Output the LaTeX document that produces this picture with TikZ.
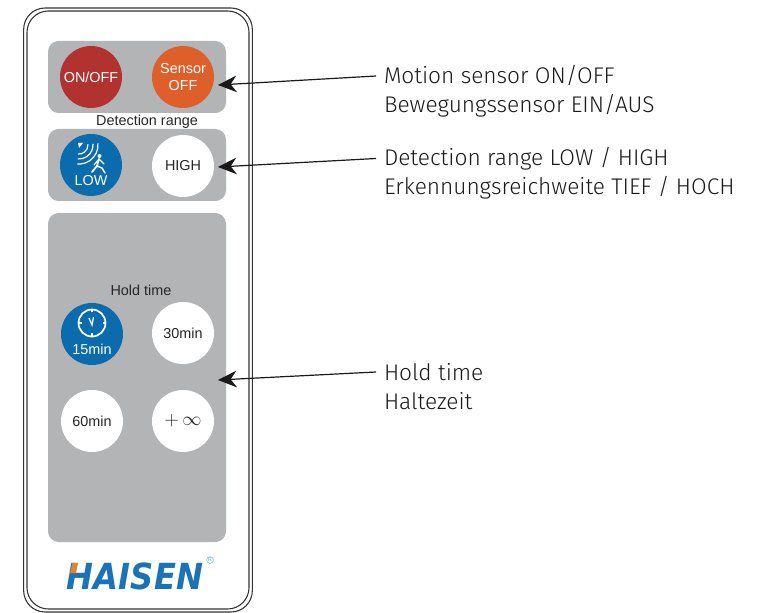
\documentclass[tikz,border=0pt]{standalone}
\usepackage{fontspec}
\setmainfont{Liberation Sans}
\newfontfamily\calloutfont{Fira Sans Light}
\newfontfamily\logofont{DejaVu Sans}
\usetikzlibrary{arrows.meta}
\definecolor{panelgray}{HTML}{B3B4B6}
\definecolor{btnredc}{HTML}{B2322F}
\definecolor{btnorangec}{HTML}{DF5F2B}
\definecolor{btnbluec}{HTML}{0A6CAD}
\definecolor{logoblue}{HTML}{1B72B5}
\definecolor{logoorange}{HTML}{E8822A}
\tikzset{
    case/.style = {draw=black!80, line width=0.8pt, rounded corners=16pt},
    panel/.style = {fill=panelgray, rounded corners=8pt},
    btn/.style = {circle, minimum size=46.5pt, inner sep=0pt, align=center, font=\fontsize{10.8}{12.3}\selectfont},
    btnw/.style = {btn, fill=white, text=black!85},
    btnr/.style = {btn, fill=btnredc, text=white},
    btno/.style = {btn, fill=btnorangec, text=white},
    btnb/.style = {btn, fill=btnbluec, text=white},
    caption/.style = {font=\fontsize{10.8}{13}\selectfont, text=black!85, inner sep=0pt},
    callout/.style = {anchor=west, inner sep=0pt, outer sep=6pt, font=\calloutfont\fontsize{17}{19}\selectfont, text=black!90},
    pointer/.style = {-{Stealth[length=14pt,width=12.5pt]}, line width=0.9pt, black!90},
    iconline/.style = {white, line width=0.9pt}
}
\begin{document}
\begin{tikzpicture}[x=0.75pt,y=-0.75pt]
\useasboundingbox (0,0) rectangle (758,613);
% case
\node[case, minimum width=171.5pt, minimum height=453pt, inner sep=0pt] at (138,310) (caseouter) {};
\node[case, minimum width=166.5pt, minimum height=448.5pt, inner sep=0pt] at (138,310) (caseinner) {};
% panels
\node[panel, minimum width=133.5pt, minimum height=54pt, inner sep=0pt] at (137,77) (panela) {};
\node[panel, minimum width=133.5pt, minimum height=54pt, inner sep=0pt] at (137,165) (panelb) {};
\node[panel, minimum width=133.5pt, minimum height=246.75pt, inner sep=0pt] at (137,377.5) (panelc) {};
%
\node[btnr] at (91,77) (onoff) {ON/OFF};
\node[btno] at (183,77) (sensor) {Sensor\\OFF};
\node[caption] at (147,122) (rangetxt) {Detection range};
\node[btnb] at (91,165) (low) {};
\node[btnw] at (183,166) (high) {HIGH};
\node[caption] at (141,290) (holdtxt) {Hold time};
\node[btnb] at (92,334) (min15) {};
\node[btnw] at (183,333) (min30) {30min};
\node[btnw] at (92,421) (min60) {60min};
\node[btnw, font=\fontsize{13.5}{15}\selectfont] at (183,421) (infty) {$+\,\infty$};
% text inside the blue buttons
\node[caption, text=white] at (91,181) (lowtxt) {LOW};
\node[caption, text=white] at (92,349) (min15txt) {15min};
% motion icon
\fill[white] (78,143) -- (83,143) -- (79,148) -- cycle;
\foreach \r in {9,14,19}
  \draw[iconline] (79,145) ++(-5:\r) arc[start angle=-5, end angle=95, radius=\r];
\fill[white] (99.5,156) circle (2);
\draw[white, line width=1.3pt, line cap=round, line join=round] (99,159) -- (97,166) -- (92,172);
\draw[white, line width=1.1pt, line cap=round, line join=round] (97,166) -- (102,168) -- (105,173);
\draw[white, line width=0.9pt, line cap=round, line join=round] (94,165) -- (99,159) -- (104,164);
% clock icon
\draw[white, line width=1.3pt] (92,323) circle (13.5);
\foreach \a in {0,90,180,270}
  \draw[iconline] (92,323) ++(\a:13.5) -- ++(\a:-3);
\draw[iconline] (89,318) -- (92,325) -- (93.5,317);
% logo
\node[inner sep=0pt, text=logoblue] at (135,576.5) (logo) {\resizebox{102pt}{20pt}{\logofont\bfseries\itshape HAISEN}};
\fill[logoorange] (72.5,563) -- (78,563) -- (76,573) -- (70,573) -- cycle;
\node[circle, draw=logoblue!60, line width=0.3pt, inner sep=0.4pt, text=logoblue!60, font=\fontsize{4}{5}\selectfont] at (210,560) (regmark) {R};
% callouts
\node[callout] at (376,76) (motiona) {Motion sensor ON/OFF};
\node[callout] at (376,105.5) (motionb) {Bewegungssensor EIN/AUS};
\node[callout] at (376,158.5) (rangea) {Detection range LOW / HIGH};
\node[callout] at (376,188) (rangeb) {Erkennungsreichweite TIEF / HOCH};
\node[callout] at (376,372) (holda) {Hold time};
\node[callout] at (376,401) (holdb) {Haltezeit};
%
\coordinate (tipa) at (218,85);
\coordinate (tipb) at (218,167);
\coordinate (tipc) at (218,380);
\draw[pointer] (motiona.west) -- (tipa);
\draw[pointer] (rangea.west) -- (tipb);
\draw[pointer] (holda.west) -- (tipc);
\end{tikzpicture}
\end{document}
